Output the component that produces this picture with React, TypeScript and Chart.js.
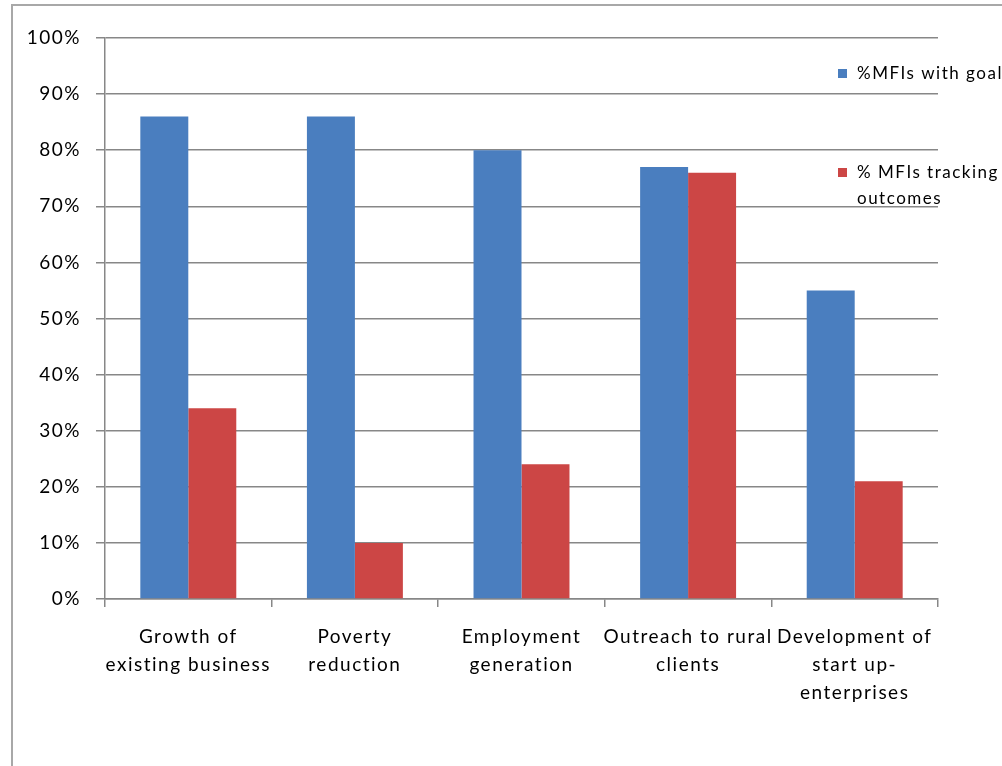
import React, { useEffect, useRef } from "react";
import { Chart, registerables } from "chart.js";

Chart.register(...registerables);

const categories: (string | string[])[] = [
  ["Growth of", "existing business"],
  ["Poverty", "reduction"],
  ["Employment", "generation"],
  ["Outreach to rural", "clients"],
  ["Development of", "start up-", "enterprises"],
];
const seriesNames = ["%MFIs with goal", "% MFIs tracking outcomes"];
const withGoal = [86, 86, 80, 77, 55];
const tracking = [34, 10, 24, 76, 21];
const yTicks = [0, 10, 20, 30, 40, 50, 60, 70, 80, 90, 100];

const BLUE = "#4a7ebf";
const RED = "#cc4645";
const GRID = "#878787";
const FONT = "Lato, 'Open Sans', sans-serif";
const SPACING = "1.5px";

const spacingPlugin = {
  id: "spacing",
  beforeUpdate(chart: any) {
    chart.ctx.letterSpacing = SPACING;
  },
  beforeLayout(chart: any) {
    chart.ctx.letterSpacing = SPACING;
  },
  beforeDraw(chart: any) {
    chart.ctx.letterSpacing = SPACING;
  },
};

const legendPlugin = {
  id: "customLegend",
  afterDraw(chart: any) {
    const ctx = chart.ctx;
    ctx.save();
    ctx.letterSpacing = SPACING;
    ctx.font = `17px ${FONT}`;
    ctx.textBaseline = "middle";
    ctx.textAlign = "left";
    ctx.fillStyle = BLUE;
    ctx.fillRect(838, 69, 9, 9);
    ctx.fillStyle = "#000";
    ctx.fillText(seriesNames[0], 857, 74);
    ctx.fillStyle = RED;
    ctx.fillRect(838, 168, 9, 9);
    ctx.fillStyle = "#000";
    ctx.fillText("% MFIs tracking", 857, 173);
    ctx.fillText("outcomes", 857, 199);
    ctx.restore();
  },
};

export default function App() {
  const ref = useRef<HTMLCanvasElement>(null);
  useEffect(() => {
    const chart = new Chart(ref.current!, {
      type: "bar",
      data: {
        labels: categories as any,
        datasets: [
          { label: seriesNames[0], data: withGoal, backgroundColor: BLUE },
          { label: seriesNames[1], data: tracking, backgroundColor: RED },
        ],
      },
      options: {
        responsive: false,
        animation: false,
        layout: { padding: { left: 0, top: 38, right: 64, bottom: 0 } },
        plugins: { legend: { display: false }, tooltip: { enabled: false } },
        datasets: { bar: { categoryPercentage: 0.576, barPercentage: 1 } },
        scales: {
          x: {
            offset: true,
            grid: {
              offset: true,
              drawOnChartArea: false,
              drawTicks: true,
              tickLength: 8,
              color: GRID,
              lineWidth: 1.5,
            },
            border: { display: true, color: GRID, width: 1.5 },
            ticks: {
              color: "#000",
              font: { family: FONT, size: 19, lineHeight: 1.47 },
              padding: 16,
              maxRotation: 0,
              autoSkip: false,
            },
            afterFit(scale: any) {
              scale.height = 167;
            },
          },
          y: {
            min: 0,
            max: 100,
            afterBuildTicks(scale: any) {
              scale.ticks = yTicks.map((v) => ({ value: v }));
            },
            grid: { color: GRID, lineWidth: 1.5, tickLength: 9, drawTicks: true },
            border: { display: true, color: GRID, width: 1.5 },
            ticks: {
              color: "#000",
              font: { family: FONT, size: 19 },
              padding: 15,
              callback: (v: any) => `${v}%`,
            },
            afterFit(scale: any) {
              scale.width = 105;
            },
          },
        },
      },
      plugins: [spacingPlugin, legendPlugin],
    });
    return () => chart.destroy();
  }, []);

  return (
    <div style={{ position: "fixed", left: 0, top: 0, width: 1002, height: 766, background: "#fff", overflow: "hidden" }}>
      <div
        style={{
          position: "absolute",
          left: 11,
          top: 4,
          width: 1010,
          height: 760,
          border: "2px solid #a8a8a8",
        }}
      />
      <canvas ref={ref} width={1002} height={766} style={{ position: "absolute", left: 0, top: 0 }} />
    </div>
  );
}
